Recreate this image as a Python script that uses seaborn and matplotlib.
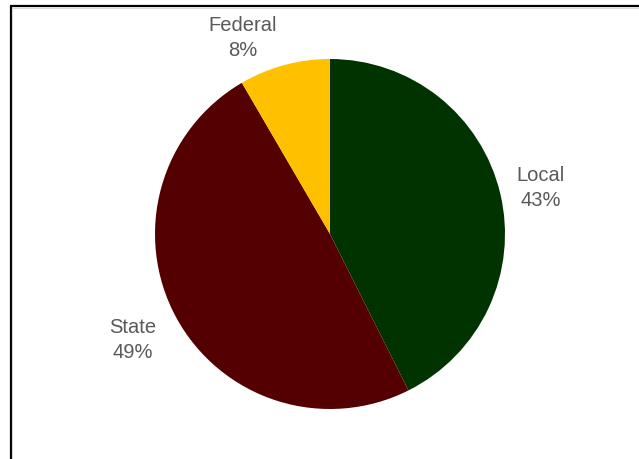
import matplotlib
matplotlib.use("Agg")
import matplotlib.pyplot as plt
import seaborn as sns
import numpy as np
from matplotlib.lines import Line2D

sns.set_style("white")
plt.rcParams['font.family'] = ['Liberation Sans', 'DejaVu Sans']

categories = ["Local", "State", "Federal"]
values = [42.6, 49.0, 8.4]
colors = ["#003300", "#550000", "#FFC000"]

W, H = 639, 460
fig = plt.figure(figsize=(W / 100, H / 100), dpi=100)
ax = fig.add_axes([0, 0, 1, 1])

cx, cy, r = 330, H - 235, 175
wedges, texts = ax.pie(values, colors=colors, startangle=90, counterclock=False,
                       center=(cx, cy), radius=r, frame=True,
                       wedgeprops=dict(linewidth=0))
ax.set_xlim(0, W)
ax.set_ylim(0, H)
ax.set_aspect("equal")
ax.axis("off")

label_pos = {"Local": (211, 47), "State": (-197, -105), "Federal": (-87, 197)}
for cat, v in zip(categories, values):
    dx, dy = label_pos[cat]
    ax.text(cx + dx, cy + dy, f"{cat}\n{v:.0f}%", ha="center", va="center",
            fontsize=14.5, color="#595959", linespacing=1.35)

# partial chart border (left and top lines)
fig.add_artist(Line2D([10.5 / W, 10.5 / W], [0, 1 - 7 / H], transform=fig.transFigure,
                      color="black", lw=1.6, solid_capstyle="butt"))
fig.add_artist(Line2D([10 / W, 1], [1 - 7 / H, 1 - 7 / H], transform=fig.transFigure,
                      color="black", lw=1.6, solid_capstyle="butt"))
fig.add_artist(Line2D([12 / W, 12 / W], [0, 1 - 8.5 / H], transform=fig.transFigure,
                      color="#d9d9d9", lw=0.8))
fig.add_artist(Line2D([12 / W, 1], [1 - 8.7 / H, 1 - 8.7 / H], transform=fig.transFigure,
                      color="#d9d9d9", lw=0.8))

fig.savefig("out.png", dpi=100, facecolor="white")
